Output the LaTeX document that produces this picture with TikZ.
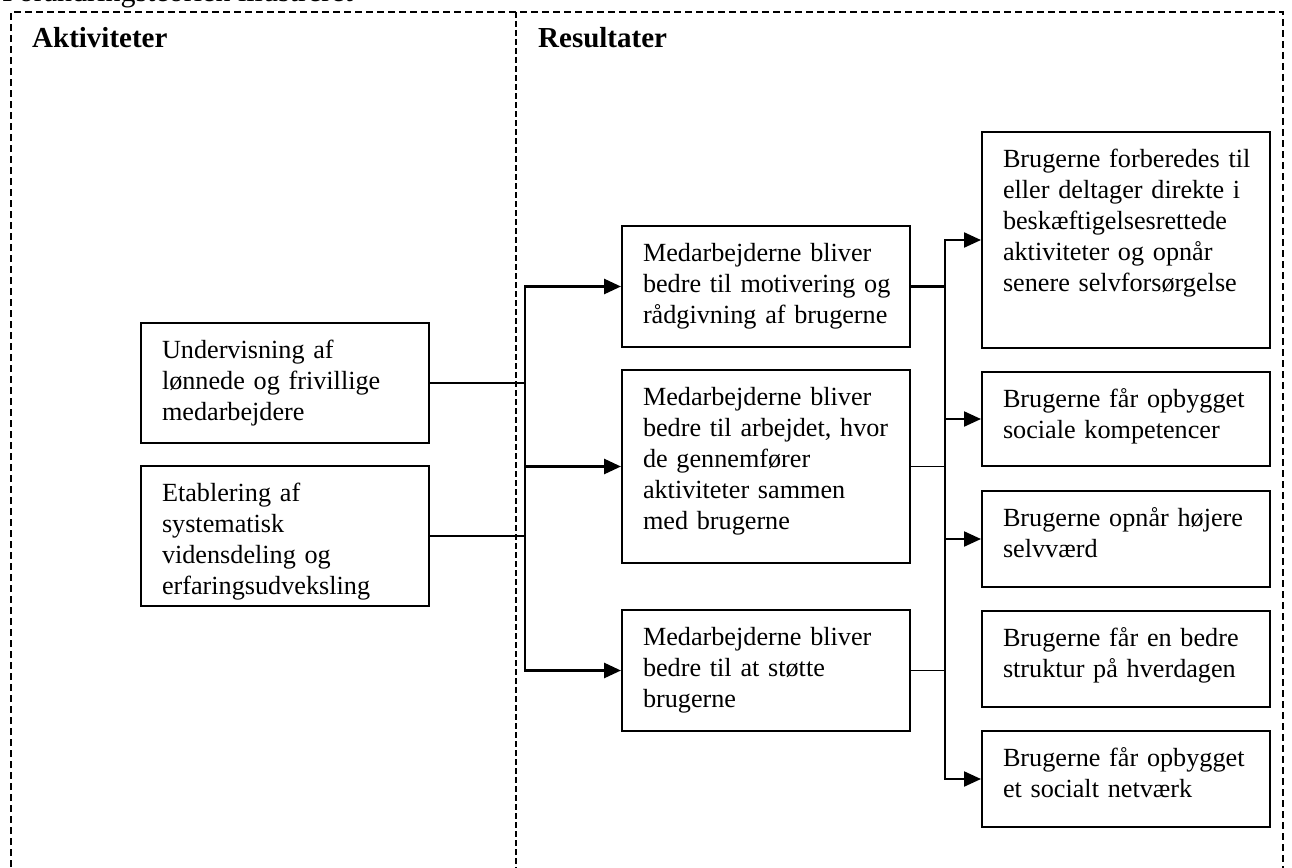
\documentclass[tikz,border=0pt]{standalone}
\usepackage{fontspec}
\setmainfont{Liberation Serif}
\usetikzlibrary{arrows.meta}
\newcommand{\tline}[1]{\mbox{#1}}
\tikzset{
  bodyfont/.style={font=\fontsize{26.2pt}{31pt}\selectfont},
  headfont/.style={font=\fontsize{29pt}{33pt}\selectfont\bfseries},
  box/.style={draw, line width=2pt, anchor=north west, bodyfont,
    text width=246pt, align=left, inner xsep=21pt, inner ysep=17pt,
    text height=18pt, text depth=#1},
  frame/.style={line width=1.5pt, dash pattern=on 7pt off 4pt},
  divider/.style={line width=1.2pt, dash pattern=on 6pt off 3pt},
  thick conn/.style={line width=2.8pt},
  thin conn/.style={line width=1.8pt},
  arr/.style={-{Triangle[length=17pt,width=15pt]}},
}
\begin{document}
\begin{tikzpicture}[x=1pt,y=-1pt]
\useasboundingbox (0,0) rectangle (1292,867);

% title, clipped at the top edge of the page
\node[anchor=base west, font=\fontsize{30pt}{34pt}\selectfont, inner sep=0pt] (title) at (2,2) {Forandringsteorien illustreret};

% dashed frame and divider
\draw[frame] (11,900) -- (11,12) -- (1283,12) -- (1283,900);
\draw[divider] (516,12) -- (516,900);

% headings
\node[headfont, anchor=base west, inner sep=0pt] (akt) at (32,48) {Aktiviteter};
\node[headfont, anchor=base west, inner sep=0pt] (res) at (538,48) {Resultater};

% activity boxes
\node[box=68pt] (L1) at (140,322) {\tline{Undervisning af}\\ \tline{lønnede og frivillige}\\ \tline{medarbejdere}};
\node[box=88pt] (L2) at (140,465) {\tline{Etablering af}\\ \tline{systematisk}\\ \tline{vidensdeling og}\\ \tline{erfaringsudveksling}};

% middle result boxes
\node[box=69pt] (M1) at (621,225) {\tline{Medarbejderne bliver}\\ \tline{bedre til motivering og}\\ \tline{rådgivning af brugerne}};
\node[box=141pt] (M2) at (621,369) {\tline{Medarbejderne bliver}\\ \tline{bedre til arbejdet, hvor}\\ \tline{de gennemfører}\\ \tline{aktiviteter sammen}\\ \tline{med brugerne}};
\node[box=69pt] (M3) at (621,609) {\tline{Medarbejderne bliver}\\ \tline{bedre til at støtte}\\ \tline{brugerne}};

% right result boxes
\node[box=164pt] (R1) at (981,131) {\tline{Brugerne forberedes til}\\ \tline{eller deltager direkte i}\\ \tline{beskæftigelsesrettede}\\ \tline{aktiviteter og opnår}\\ \tline{senere selvforsørgelse}};
\node[box=42pt] (R2) at (981,371) {\tline{Brugerne får opbygget}\\ \tline{sociale kompetencer}};
\node[box=44pt] (R3) at (981,490) {\tline{Brugerne opnår højere}\\ \tline{selvværd}};
\node[box=44pt] (R4) at (981,610) {\tline{Brugerne får en bedre}\\ \tline{struktur på hverdagen}};
\node[box=44pt] (R5) at (981,730) {\tline{Brugerne får opbygget}\\ \tline{et socialt netværk}};

% bus positions
\coordinate (bl) at (525,0);
\coordinate (br) at (945,0);

% left side connectors
\draw[thick conn] (L1.east) -- (L1.east -| bl);
\draw[thin conn] (L2.east) -- (L2.east -| bl);
\draw[thick conn, arr] (bl |- M3.west) -- (bl |- M1.west) -- (M1.west);
\draw[thick conn, arr] (bl |- M2.west) -- (bl |- M3.west) -- (M3.west);
\draw[thick conn, arr] (bl |- M2.west) -- (M2.west);

% right side connectors
\draw[thick conn] (M1.east) -- (M1.east -| br);
\draw[thin conn] (M2.east) -- (M2.east -| br);
\draw[thin conn] (M3.east) -- (M3.east -| br);
\draw[thin conn, line width=2.2pt, arr] (br |- R5.west) -- (br |- R1.west) -- (R1.west);
\draw[thin conn, line width=2.2pt, arr] (br |- R3.west) -- (br |- R5.west) -- (R5.west);
\draw[thin conn, line width=2.2pt, arr] (br |- R2.west) -- (R2.west);
\draw[thin conn, line width=2.2pt, arr] (br |- R3.west) -- (R3.west);
\end{tikzpicture}
\end{document}
